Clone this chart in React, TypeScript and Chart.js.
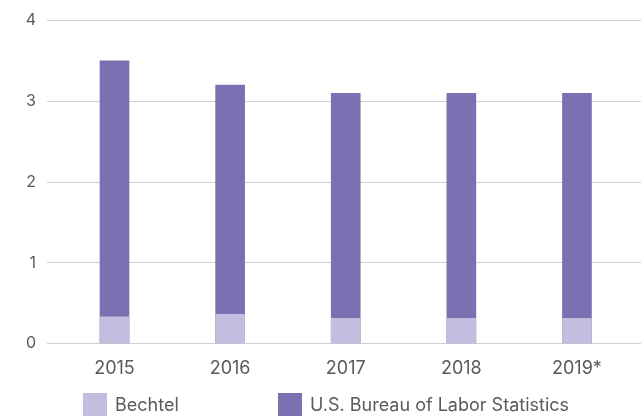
import React, { useEffect, useRef } from "react";
import { Chart, registerables } from "chart.js";

Chart.register(...registerables);

const categories = ["2015", "2016", "2017", "2018", "2019*"];
const bechtelValues = [0.33, 0.36, 0.31, 0.31, 0.31];
const blsValues = [3.5, 3.2, 3.1, 3.1, 3.1];
const yTicks = [0, 1, 2, 3, 4];

const seriesLabels = ["Bechtel", "U.S. Bureau of Labor Statistics"];
const seriesColors = ["#c3bddf", "#7c70b3"];

const FONT = "Inter, 'DejaVu Sans', sans-serif";
const TEXT = "#5a5a5a";

export default function App() {
  const ref = useRef<HTMLCanvasElement | null>(null);

  useEffect(() => {
    if (!ref.current) return;
    const chart = new Chart(ref.current, {
      type: "bar",
      data: {
        datasets: [
          {
            label: seriesLabels[0],
            data: bechtelValues.map((v, i) => ({ x: i, y: v })),
            backgroundColor: seriesColors[0],
            grouped: false,
            barThickness: 29,
          },
          {
            label: seriesLabels[1],
            data: blsValues.map((v, i) => ({ x: i, y: v })),
            backgroundColor: seriesColors[1],
            grouped: false,
            barThickness: 29,
          },
        ],
      } as any,
      options: {
        responsive: true,
        maintainAspectRatio: false,
        animation: false,
        layout: { padding: { top: 20, right: 0, bottom: 34, left: 0 } },
        plugins: { legend: { display: false }, tooltip: { enabled: false } },
        scales: {
          x: {
            type: "linear",
            offset: false,
            min: -0.584,
            max: 4.554,
            grid: { display: false, drawTicks: true },
            border: { display: false },
            afterBuildTicks: (s: any) => {
              s.ticks = categories.map((_, i) => ({ value: i }));
            },
            ticks: {
              callback: (v: any) => categories[v] ?? "",
              font: { family: FONT, size: 18 },
              color: TEXT,
              padding: 6,
              maxRotation: 0,
              autoSkip: false,
            },
          },
          y: {
            min: 0,
            max: 4,
            afterBuildTicks: (s: any) => {
              s.ticks = yTicks.map((v) => ({ value: v }));
            },
            afterFit: (s: any) => {
              s.width = 47;
            },
            grid: { color: "#d0d0d0", lineWidth: 1, drawTicks: false },
            border: { display: false },
            ticks: {
              font: { family: FONT, size: 16 },
              color: TEXT,
              padding: 11,
            },
          },
        },
      } as any,
    });
    return () => chart.destroy();
  }, []);

  return (
    <div style={{ position: "fixed", left: 0, top: 0, width: 641, height: 419, background: "#fff" }}>
      <canvas ref={ref} />
      <div style={{ position: "absolute", left: 83, top: 393, display: "flex", fontFamily: FONT, fontSize: 18, color: TEXT }}>
        {seriesLabels.map((l, i) => (
          <div key={l} style={{ display: "flex", alignItems: "center", width: i === 0 ? 195 : "auto", whiteSpace: "nowrap" }}>
            <span style={{ display: "inline-block", width: 24, height: 23, background: seriesColors[i], marginRight: 8, flex: "none" }} />
            <span>{l}</span>
          </div>
        ))}
      </div>
    </div>
  );
}
